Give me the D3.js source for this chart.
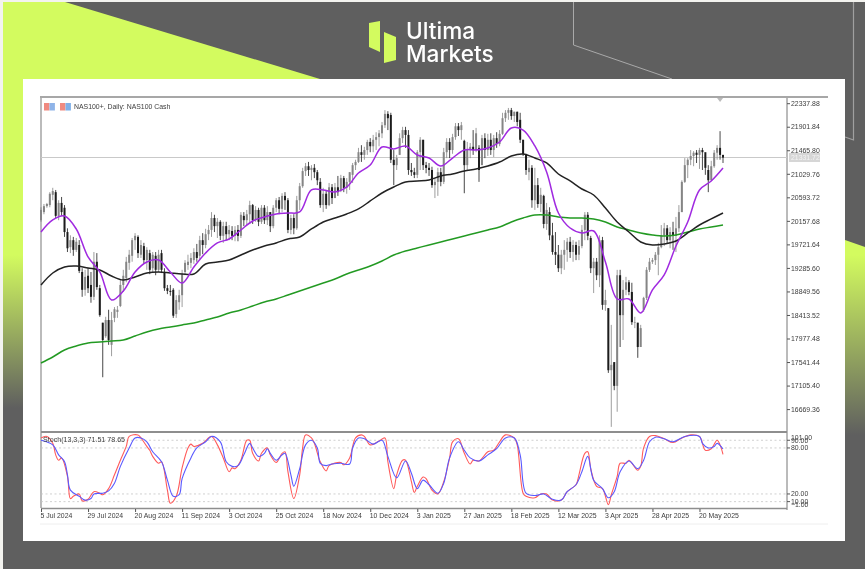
<!DOCTYPE html>
<html><head><meta charset="utf-8">
<script src="https://cdnjs.cloudflare.com/ajax/libs/d3/7.8.5/d3.min.js"></script>
<style>html,body{margin:0;padding:0;background:#f3f3ef;overflow:hidden}svg{display:block}
.lbl{font-family:"Liberation Sans",sans-serif;font-size:6.9px;fill:#3c3c3c}</style></head><body>
<svg id="c" width="865" height="569"></svg>
<script>
const dateLabels=["5 Jul 2024","29 Jul 2024","20 Aug 2024","11 Sep 2024","3 Oct 2024","25 Oct 2024","18 Nov 2024","10 Dec 2024","3 Jan 2025","27 Jan 2025","18 Feb 2025","12 Mar 2025","3 Apr 2025","28 Apr 2025","20 May 2025"];
const priceTicks=[22337.88,21901.84,21465.80,21029.76,20593.72,20157.68,19721.64,19285.60,18849.56,18413.52,17977.48,17541.44,17105.40,16669.36];
const stochLevels=[90,80,20,10];
const stochTickLabels=[101,90,80,20,10,-1];
const lastPrice=21331.72;
const opens=[
20170,20320,20430,20450,20640,20690,20250,20490,20400,19950,19670,19800,19620,19710,19210,18880,
19140,18970,18750,19400,18910,18270,18020,18320,17860,18360,18470,18580,18970,19100,19380,19510,
19800,19860,19530,19690,19430,19560,19280,19510,19250,19560,19210,18910,18860,18880,18430,18650,
18780,19210,19340,19380,19430,19580,19510,19800,19710,19910,19990,20210,20060,20140,19880,20060,
19910,19970,19880,19990,19880,20250,20170,20280,20450,20170,20360,20140,20400,20170,20320,20060,
20400,20540,20380,20620,20540,19990,20210,20020,20540,20800,21080,21170,21100,21140,21060,20880,
20450,20660,20450,20780,20580,20780,20730,20950,20770,20880,21010,21190,21250,21430,21380,21470,
21620,21540,21660,21710,21780,21930,22140,22120,21290,21190,21380,21690,21840,21750,21100,21060,
21010,21430,21660,21190,21140,21100,20820,20880,21060,20880,21430,21620,21470,21710,21910,21840,
21640,21190,21470,21530,21470,21510,21190,21690,21470,21660,21470,21690,21580,21770,22060,22160,
22210,22100,22180,22030,21660,21380,21060,21140,20540,20820,20470,20620,20100,20320,19890,19580,
19530,19280,19530,19620,19770,19580,19710,19530,19690,19990,20270,19840,19280,19400,19150,19800,
18600,18540,17390,17540,17100,19150,18410,18880,19020,18840,18280,18270,17820,18510,18730,19250,
19400,19430,19530,19670,19890,20020,19800,19950,19880,20020,20320,20880,21190,21290,21360,21420,
21380,21470,21430,21100,20910,21170,21420,21510,21380];
const closes=[
20360,20430,20470,20660,20710,20250,20490,20320,19950,19650,19800,19620,19770,19230,18880,19120,
18910,18750,19400,18930,18410,17950,18320,17950,18320,18520,18510,18970,19140,19400,19530,19800,
19880,19560,19710,19430,19620,19250,19530,19250,19530,19250,18910,18860,18840,18400,18690,18780,
19170,19380,19400,19470,19580,19470,19800,19710,19910,19990,20210,20060,20140,19880,20060,19910,
19990,19880,19990,19880,20270,20170,20280,20450,20170,20360,20140,20400,20170,20320,20060,20400,
20540,20380,20620,20540,19990,20210,20020,20540,20800,21080,21170,21100,21140,21060,20910,20450,
20660,20450,20780,20580,20780,20690,20950,20770,20880,21060,21190,21250,21430,21380,21470,21620,
21540,21660,21710,21780,21930,22140,22060,21290,21190,21320,21690,21840,21750,21100,21060,21010,
21430,21660,21190,21140,21100,20820,20880,21060,20880,21430,21620,21470,21710,21910,21840,21930,
21190,21470,21530,21470,21780,21100,21690,21470,21660,21470,21690,21580,21770,22060,22160,22210,
22100,22180,21990,21660,21400,21100,21140,20540,20820,20470,20640,20100,20360,19890,19580,19530,
19280,19530,19620,19770,19580,19710,19530,19690,19990,20270,19880,19280,19400,19150,19800,18600,
18690,17390,17490,17100,19150,18410,18880,19020,18840,18280,18280,17820,18170,18730,19250,19400,
19430,19530,19670,19890,20020,19800,19950,19880,20020,20320,20880,21190,21290,21360,21420,21380,
21470,21430,21140,20910,21170,21420,21510,21380,21330];
const highs=[
20410,20470,20490,20690,20770,20730,20540,20600,20450,20020,19890,19860,19840,19800,19280,19250,
19280,19210,19580,19560,18970,18270,18380,18510,18470,18560,18580,19060,19250,19490,19620,19840,
19930,19890,19800,19750,19670,19620,19580,19580,19620,19620,19280,18970,18970,18910,18780,18880,
19250,19430,19530,19560,19650,19730,19880,19930,20010,20080,20320,20270,20210,20170,20140,20140,
20080,20060,20060,20080,20320,20320,20360,20530,20470,20430,20400,20450,20450,20430,20320,20450,
20580,20600,20670,20690,20580,20270,20280,20620,20860,21140,21230,21250,21190,21210,21100,20950,
20770,20730,20860,20840,20860,20990,21010,20990,20950,21060,21230,21290,21510,21560,21530,21660,
21690,21750,21800,21840,21990,22210,22190,22160,21470,21380,21780,21900,21900,21840,21230,21140,
21470,21710,21660,21250,21230,21160,20950,21140,21140,21510,21690,21690,21770,21970,21970,21990,
21660,21620,21600,21840,21880,21560,21750,21780,21770,21780,21750,21800,21840,22160,22210,22250,
22250,22180,22180,22160,21660,21400,21290,21190,21140,20950,20770,20640,20490,20410,20120,19950,
19710,19620,19800,19840,19860,19800,19770,19800,20080,20320,20320,19880,19470,19470,19890,19860,
18880,18540,18230,17540,19250,19250,19060,19120,19060,19010,18380,18270,18230,18750,19300,19470,
19470,19580,19750,20080,20120,20080,20040,20140,20230,20450,20910,21320,21320,21470,21450,21470,
21510,21510,21380,21190,21270,21470,21560,21820,21380];
const lows=[
20140,20280,20400,20410,20540,20210,20170,20250,19860,19580,19560,19510,19580,19190,18750,18770,
18820,18640,18690,18880,18380,17260,17990,17860,17650,18280,18360,18560,18840,19020,19250,19400,
19620,19470,19470,19360,19250,19170,19190,19150,19210,19190,18860,18800,18770,18360,18360,18510,
18560,19150,19250,19280,19360,19400,19430,19540,19650,19800,19860,19950,19840,19800,19750,19800,
19800,19800,19780,19780,19840,20060,20080,20100,20100,20140,20060,20100,20100,20080,19950,20020,
20320,20280,20320,20360,19930,19910,19910,19990,20360,20770,20990,20990,20910,20950,20820,20400,
20320,20380,20430,20470,20580,20620,20690,20690,20660,20730,20860,21100,21230,21250,21290,21380,
21430,21430,21470,21540,21690,21880,21840,21230,20820,21100,21380,21600,21510,21010,20990,20950,
20950,21100,21100,21040,20990,20770,20580,20620,20800,20840,21320,21320,21400,21660,21730,21660,
20670,21100,21320,21380,21430,20880,21190,21320,21360,21380,21340,21510,21540,21750,21990,22030,
22030,21990,21910,21600,21360,21010,20910,20400,20360,20400,20320,20020,19990,19800,19530,19340,
19210,19170,19250,19400,19470,19400,19430,19430,19650,19800,19800,19190,18820,19060,18930,18510,
18490,17340,16340,17020,16620,17820,17950,18780,18780,18230,18170,17620,17820,18470,18690,19210,
19360,19340,19150,19650,19690,19730,19650,19620,19580,19950,20320,20860,20950,21190,21170,21230,
21120,21100,21010,20690,21010,21140,21290,21290,21230];
// moving averages, one reading every fourth bar
const maEvery=4;
const maFast=[19951,20174,20248,20007,19488,19210,18691,18858,19210,19395,19433,19210,19006,19303,19562,19748,19822,19988,20155,20229,20285,20303,20322,20730,20730,20693,20785,21045,21193,21526,21489,21545,21378,21322,21174,21322,21471,21471,21508,21619,21878,21841,21545,21063,20303,20025,19933,19970,19395,18710,18710,18450,18877,19155,19692,20137,20730,20897,21137];
const maMid=[18969,19191,19303,19321,19284,19247,19136,19062,19118,19191,19210,19191,19173,19173,19358,19395,19433,19525,19618,19692,19748,19822,19859,20007,20137,20211,20285,20378,20526,20674,20785,20878,20897,20915,20989,21026,21082,21119,21174,21248,21359,21397,21322,21230,21026,20897,20748,20637,20396,20137,19951,19766,19711,19729,19785,19933,20081,20193,20303];
const maSlow=[17524,17635,17765,17839,17895,17913,17932,17950,18024,18098,18154,18191,18228,18265,18321,18376,18450,18506,18580,18654,18710,18784,18858,18932,19006,19080,19173,19247,19321,19414,19525,19599,19655,19711,19766,19822,19877,19933,19988,20044,20137,20211,20266,20266,20229,20211,20211,20192,20137,20044,19988,19933,19896,19877,19896,19951,20007,20044,20081];
// stochastic readings: bar index and value
const stochMainBars=[0,2,4,5,6,7,9,10,11,13,14,16,18,20,21,23,25,27,29,30,33,34,36,37,38,40,41,43,44,46,48,50,51,52,55,58,60,62,64,65,66,68,70,71,72,74,75,77,78,80,82,83,84,86,88,89,90,92,93,95,97,98,102,103,105,107,109,110,112,115,117,118,120,121,123,124,126,127,128,130,131,133,135,137,139,140,142,144,146,147,149,152,154,156,158,161,162,164,165,168,170,172,174,177,179,182,183,185,186,187,189,191,193,194,196,197,199,200,203,204,205,207,209,212,215,218,221,224,226,228,230,231,232];
const stochMainVals=[93,95,86,71,64,67,43,14,17,20,11,13,23,21,19,27,45,64,82,95,97,93,82,77,69,60,62,25,8,17,54,80,85,82,86,95,84,67,49,54,53,64,90,90,73,63,73,80,71,61,73,75,49,14,45,80,97,93,86,62,50,57,61,58,67,93,97,95,84,89,93,62,27,45,64,64,36,22,30,42,40,25,20,36,67,88,92,73,59,64,63,75,77,88,97,93,84,21,17,15,20,20,12,12,23,32,45,73,75,53,30,27,6,19,43,60,60,64,51,56,80,95,96,92,87,93,97,95,77,79,90,84,71.51];
const stochSignalBars=[0,4,6,8,9,10,13,15,17,18,21,23,25,27,30,32,34,36,38,41,43,45,47,48,51,53,56,58,61,63,65,67,69,71,72,74,76,77,78,80,82,83,85,86,88,90,92,94,95,97,99,102,105,106,108,110,113,116,118,121,124,126,128,130,132,135,137,139,142,144,146,149,152,155,158,161,163,165,168,171,174,177,179,182,184,186,188,191,193,195,197,200,203,205,207,209,212,215,219,224,225,227,229,230,232];
const stochSignalVals=[90,84,71,62,45,25,17,12,14,20,21,24,34,56,80,93,93,88,75,62,38,17,19,40,67,80,88,95,88,62,56,57,71,86,80,69,73,79,73,64,71,73,45,30,53,84,90,80,60,57,59,60,59,80,93,92,85,90,69,41,63,47,27,38,32,21,34,67,88,77,67,63,71,79,93,93,71,21,18,20,13,12,23,32,49,69,38,27,15,23,49,63,53,64,88,94,92,88,95,95,86,80,82,86,78.65];

const svg=d3.select("#c");
const defs=svg.append("defs");
const mkGrad=(id,y1,y2)=>{const g=defs.append("linearGradient").attr("id",id).attr("gradientUnits","userSpaceOnUse").attr("x1",0).attr("x2",0).attr("y1",y1).attr("y2",y2);
 g.append("stop").attr("offset",0).attr("stop-color","#d3fb5f");g.append("stop").attr("offset",1).attr("stop-color","#5f5f5f");};
mkGrad("fadeL",255,408);mkGrad("fadeR",255,435);
const mkBlur=(id,s)=>defs.append("filter").attr("id",id).attr("x","-2%").attr("y","-2%").attr("width","104%").attr("height","104%").append("feGaussianBlur").attr("stdDeviation",s);
mkBlur("soft",0.55);mkBlur("softLogo",0.35);

// backdrop
const bg=svg.append("g");
bg.append("rect").attr("x",3).attr("y",2).attr("width",862).attr("height",567).attr("fill","#5f5f5f");
bg.append("polygon").attr("points","3,2 65,2 320,79 3,79").attr("fill","#d3fb5f");
bg.append("rect").attr("x",3).attr("y",79).attr("width",20).attr("height",329).attr("fill","url(#fadeL)");
bg.append("polygon").attr("points","845,240 865,247 865,435 845,435").attr("fill","url(#fadeR)");
bg.append("path").attr("d","M573.5,2V45L672,79").attr("fill","none").attr("stroke","#a9a9a9").attr("stroke-width",1);
bg.append("path").attr("d","M853.5,2V140L845,137").attr("fill","none").attr("stroke","#a0a0a0").attr("stroke-width",1.2);
bg.append("rect").attr("x",23).attr("y",79).attr("width",822).attr("height",462).attr("fill","#fff");

// logo
const logo=svg.append("g").attr("filter","url(#softLogo)");
logo.append("polygon").attr("points","369,23 380,21 380,52 369,47").attr("fill","#d3fb5f");
logo.append("polygon").attr("points","384,32 396,37 396,60 384,63").attr("fill","#d3fb5f");
logo.selectAll("text").data([["Ultima",39],["Markets",61.5]]).join("text").attr("x",406).attr("y",d=>d[1]).text(d=>d[0])
 .attr("font-family","Inter,sans-serif").attr("font-weight",500).attr("font-size",22.6).attr("fill","#fff");

const chart=svg.append("g").attr("filter","url(#soft)");
const n=closes.length;
const x=d3.scaleLinear().domain([0,232]).range([41,723]);
const y=d3.scaleLinear().domain([16669.36,22337.88]).range([409.1,103.2]);
const yS=d3.scaleLinear().domain([0,100]).range([509.3,432.6]);

// frame
chart.append("path").attr("d","M40,97H828").attr("stroke","#8a8a8a").attr("stroke-width",1.3).attr("fill","none");
chart.append("path").attr("d","M40,524H828").attr("stroke","#eeeeee").attr("stroke-width",1).attr("fill","none");
chart.append("path").attr("d","M41,98V508").attr("stroke","#8e8e8e").attr("stroke-width",1.2).attr("fill","none");
chart.append("path").attr("d","M787,98V510").attr("stroke","#777").attr("stroke-width",1).attr("fill","none");
chart.append("path").attr("d","M41,432H787").attr("stroke","#8e8e8e").attr("stroke-width",1.8).attr("fill","none");
chart.append("path").attr("d","M41,508.5H787").attr("stroke","#8e8e8e").attr("stroke-width",1.4).attr("fill","none");

// price axis
const yAxis=chart.append("g").attr("transform","translate(787,0)").call(d3.axisRight(y).tickValues(priceTicks).tickSize(3).tickFormat(d3.format(".2f")));
yAxis.select(".domain").remove();
yAxis.selectAll("line").attr("stroke","#555");
yAxis.selectAll("text").attr("class","lbl").attr("x",4).attr("font-family",null).attr("font-size",null);

// current price line and tag
chart.append("line").attr("x1",41).attr("x2",787).attr("y1",y(lastPrice)).attr("y2",y(lastPrice)).attr("stroke","#c9c9c9").attr("stroke-width",1);
chart.append("rect").attr("x",789).attr("y",y(lastPrice)-4.5).attr("width",31).attr("height",9).attr("fill","#d6d6d6");
chart.append("text").attr("class","lbl").attr("x",791).attr("y",y(lastPrice)+2.4).style("fill","#f4f4f4").text(d3.format(".2f")(lastPrice));
chart.append("polygon").attr("points",`${x(231)-3},98 ${x(231)+3},98 ${x(231)},102`).attr("fill","#bbbbbb");

// candles
const bars=d3.range(n);
const tone=i=>closes[i]>=opens[i]?"#858585":"#1c1c1c";
chart.append("g").selectAll("line").data(bars).join("line")
 .attr("x1",i=>x(i)).attr("x2",i=>x(i)).attr("y1",i=>y(highs[i])).attr("y2",i=>y(lows[i]))
 .attr("stroke",tone).attr("stroke-width",0.8);
chart.append("g").selectAll("rect").data(bars).join("rect")
 .attr("x",i=>x(i)-1).attr("width",2)
 .attr("y",i=>y(Math.max(opens[i],closes[i])))
 .attr("height",i=>Math.max(0.6,Math.abs(y(opens[i])-y(closes[i]))))
 .attr("fill",tone);

// moving averages
const maLine=d3.line().x((d,k)=>x(k*maEvery)).y(d=>y(d)).curve(d3.curveCatmullRom.alpha(0.5));
[[maSlow,"#249a24"],[maMid,"#222222"],[maFast,"#a02ae0"]].forEach(([vals,col])=>{
 chart.append("path").datum(vals).attr("d",maLine).attr("fill","none").attr("stroke",col).attr("stroke-width",1.5);
});

// chart title and icons
const icon=chart.append("g");
[[44,"#f08a80"],[49.5,"#8fb4e8"],[60,"#f08a80"],[65.5,"#7fb0e8"]].forEach(([px,col])=>{
 icon.append("rect").attr("x",px).attr("y",103).attr("width",5.4).attr("height",7.5).attr("fill",col);
});
chart.append("text").attr("class","lbl").attr("x",74).attr("y",109).style("font-size","6.9px").text("NAS100+, Daily:  NAS100 Cash");

// stochastic pane
chart.append("g").selectAll("line").data(stochLevels).join("line")
 .attr("x1",41).attr("x2",787).attr("y1",d=>yS(d)).attr("y2",d=>yS(d))
 .attr("stroke","#c4c4c4").attr("stroke-width",0.8).attr("stroke-dasharray","2 2.5");
const sLine=bs=>d3.line().x((d,k)=>x(bs[k])).y(d=>yS(d)).curve(d3.curveCatmullRom.alpha(0.5));
chart.append("path").datum(stochMainVals).attr("d",sLine(stochMainBars)).attr("fill","none").attr("stroke","#ff5a5a").attr("stroke-width",1.1);
chart.append("path").datum(stochSignalVals).attr("d",sLine(stochSignalBars)).attr("fill","none").attr("stroke","#5a5aff").attr("stroke-width",1.1);
chart.append("text").attr("class","lbl").attr("x",43).attr("y",442).style("font-size","7.1px")
 .text(`Stoch(13,3,3) ${stochMainVals[stochMainVals.length-1]} ${stochSignalVals[stochSignalVals.length-1]}`);
// stochastic value labels, kept inside the pane
chart.append("g").selectAll("text").data(stochTickLabels).join("text").attr("class","lbl")
 .attr("x",791).attr("y",d=>Math.min(506.5,Math.max(439.5,yS(d)+2.4))).text(d3.format(".2f"));
chart.append("g").selectAll("line").data(stochLevels).join("line")
 .attr("x1",787).attr("x2",790).attr("y1",d=>yS(d)).attr("y2",d=>yS(d)).attr("stroke","#555");

// date axis
const xAxis=chart.append("g").attr("transform","translate(0,509)").call(d3.axisBottom(x).tickValues(dateLabels.map((d,k)=>k*16)).tickSize(3).tickFormat((d,k)=>dateLabels[k]));
xAxis.select(".domain").remove();
xAxis.selectAll("line").attr("stroke","#555");
xAxis.selectAll("text").attr("class","lbl").attr("text-anchor","start").attr("x",-1).attr("y",4).attr("dy","0.71em").attr("font-family",null).attr("font-size",null);
</script></body></html>
